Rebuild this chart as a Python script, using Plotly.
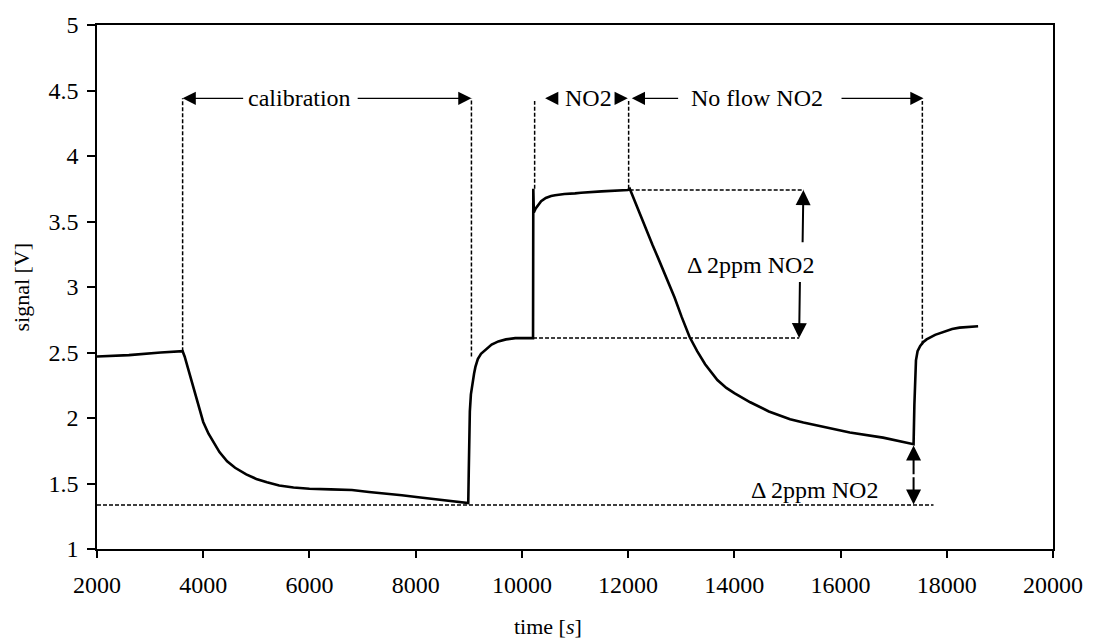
import plotly.graph_objects as go

# ---- data ----
time_s = [2000, 2600, 3200, 3612, 3650, 3700, 3800, 3900, 4000, 4100, 4200, 4306, 4450, 4600,
          4810, 5000, 5200, 5430, 5700, 6000, 6400, 6800, 7120, 7400, 7740, 8050, 8350, 8650,
          8960, 8990, 9000, 9010, 9020, 9040, 9070, 9100, 9125, 9170, 9230, 9312, 9430, 9556,
          9700, 9875, 10050, 10210, 10215, 10225, 10260, 10300, 10362, 10450, 10550, 10625,
          10800, 11000, 11112, 11500, 11994, 12031, 12100, 12181, 12270, 12360, 12460, 12556,
          12720, 12875, 13010, 13156, 13300, 13450, 13681, 13850, 14000, 14150, 14300, 14650,
          15050, 15300, 15600, 16175, 16800, 17375, 17390, 17400, 17420, 17450, 17500, 17560,
          17620, 17780, 17937, 18100, 18240, 18590]
signal_v = [2.47, 2.48, 2.50, 2.51, 2.47, 2.40, 2.27, 2.12, 1.97, 1.88, 1.81, 1.74, 1.67, 1.62,
            1.57, 1.535, 1.51, 1.485, 1.47, 1.46, 1.455, 1.45, 1.435, 1.425, 1.41, 1.395, 1.38,
            1.365, 1.35, 1.35, 1.60, 1.85, 2.05, 2.18, 2.27, 2.34, 2.39, 2.45, 2.49, 2.52, 2.56,
            2.585, 2.60, 2.61, 2.61, 2.61, 3.75, 3.57, 3.60, 3.625, 3.655, 3.68, 3.695, 3.70,
            3.71, 3.715, 3.72, 3.73, 3.74, 3.75, 3.68, 3.60, 3.51, 3.41, 3.32, 3.23,
            3.07, 2.92, 2.77, 2.62, 2.51, 2.41, 2.29, 2.23, 2.19, 2.155, 2.12, 2.05,
            1.99, 1.965, 1.94, 1.89, 1.85, 1.80, 2.10, 2.30, 2.44, 2.51, 2.55, 2.58,
            2.60, 2.635, 2.66, 2.68, 2.69, 2.70]

x_ticks = [2000, 4000, 6000, 8000, 10000, 12000, 14000, 16000, 18000, 20000]
x_tick_text = ["2000", "4000", "6000", "8000", "10000", "12000", "14000", "16000", "18000", "20000"]
y_ticks = [1, 1.5, 2, 2.5, 3, 3.5, 4, 4.5, 5]
y_tick_text = ["1", "1.5", "2", "2.5", "3", "3.5", "4", "4.5", "5"]

FONT = "Liberation Serif"
FS = 24
fig = go.Figure()
fig.add_trace(go.Scatter(x=time_s, y=signal_v, mode="lines",
                         line=dict(color="black", width=2.6), showlegend=False,
                         hoverinfo="skip"))

dash = "4px,2px"
def vline(x, y0, y1):
    fig.add_shape(type="line", x0=x, x1=x, y0=y0, y1=y1, xref="x", yref="y",
                  line=dict(color="black", width=1.5, dash=dash))
def hline(y, x0, x1):
    fig.add_shape(type="line", x0=x0, x1=x1, y0=y, y1=y, xref="x", yref="y",
                  line=dict(color="black", width=1.5, dash=dash))

vline(3612, 2.51, 4.44)
vline(9050, 2.47, 4.44)
vline(10240, 3.75, 4.42)
vline(12010, 3.75, 4.42)
vline(17540, 2.56, 4.42)
hline(3.74, 12030, 15310)
hline(2.61, 10210, 15220)
hline(1.335, 2000, 17750)

def arrow(xh, yh, xt, yt, w=1.2, size=2.2):
    fig.add_annotation(x=xh, y=yh, ax=xt, ay=yt, xref="x", yref="y", axref="x", ayref="y",
                       text="", showarrow=True, arrowhead=2, arrowsize=size,
                       arrowwidth=w, arrowcolor="black")

def label(x, y, t):
    fig.add_annotation(x=x, y=y, xref="x", yref="y", text=t, showarrow=False,
                       font=dict(family=FONT, size=FS, color="black"))

# calibration
arrow(3612, 4.44, 4780, 4.44)
arrow(9050, 4.44, 6880, 4.44)
label(5806, 4.44, "calibration")
# NO2
arrow(10437, 4.44, 10660, 4.44)
label(11245, 4.44, "NO2")
arrow(11994, 4.44, 11770, 4.44)
# No flow NO2
arrow(12069, 4.44, 12970, 4.44)
label(14431, 4.44, "No flow NO2")
arrow(17562, 4.44, 15990, 4.44)
# delta top
arrow(15300, 3.74, 15285, 3.33, w=2, size=1.5)
arrow(15220, 2.61, 15235, 3.05, w=2, size=1.5)
label(14300, 3.17, "Δ 2ppm NO2")
# delta bottom
arrow(17375, 1.79, 17375, 1.56, w=2, size=1.5)
arrow(17375, 1.34, 17375, 1.56, w=2, size=1.5)
label(15500, 1.45, "Δ 2ppm NO2")

# axis titles
fig.add_annotation(x=0.472, y=-0.1485, xref="paper", yref="paper", text="time [<i>s</i>]",
                   xanchor="center", yanchor="middle",
                   showarrow=False, font=dict(family=FONT, size=FS - 2, color="black"))
fig.add_annotation(x=-0.080, y=0.5, xref="paper", yref="paper", text="signal [V]",
                   xanchor="center", yanchor="middle",
                   textangle=-90, showarrow=False, font=dict(family=FONT, size=FS - 2, color="black"))

axis_common = dict(showgrid=False, zeroline=False, showline=True, linecolor="black",
                   linewidth=1.5, mirror=True, ticks="outside", tickcolor="black",
                   tickwidth=1.5, tickfont=dict(family=FONT, size=FS, color="black"))
fig.update_xaxes(range=[2000, 20000], tickvals=x_ticks, ticktext=x_tick_text, ticklen=7,
                 ticklabelstandoff=6, **axis_common)
fig.update_yaxes(range=[1, 5], tickvals=y_ticks, ticktext=y_tick_text, ticklen=8,
                 ticklabelstandoff=4, **axis_common)

fig.update_layout(width=1095, height=644, margin=dict(l=97, r=38, t=17, b=95),
                  plot_bgcolor="white", paper_bgcolor="white",
                  font=dict(family=FONT, color="black"))
fig.write_html("out.html")
